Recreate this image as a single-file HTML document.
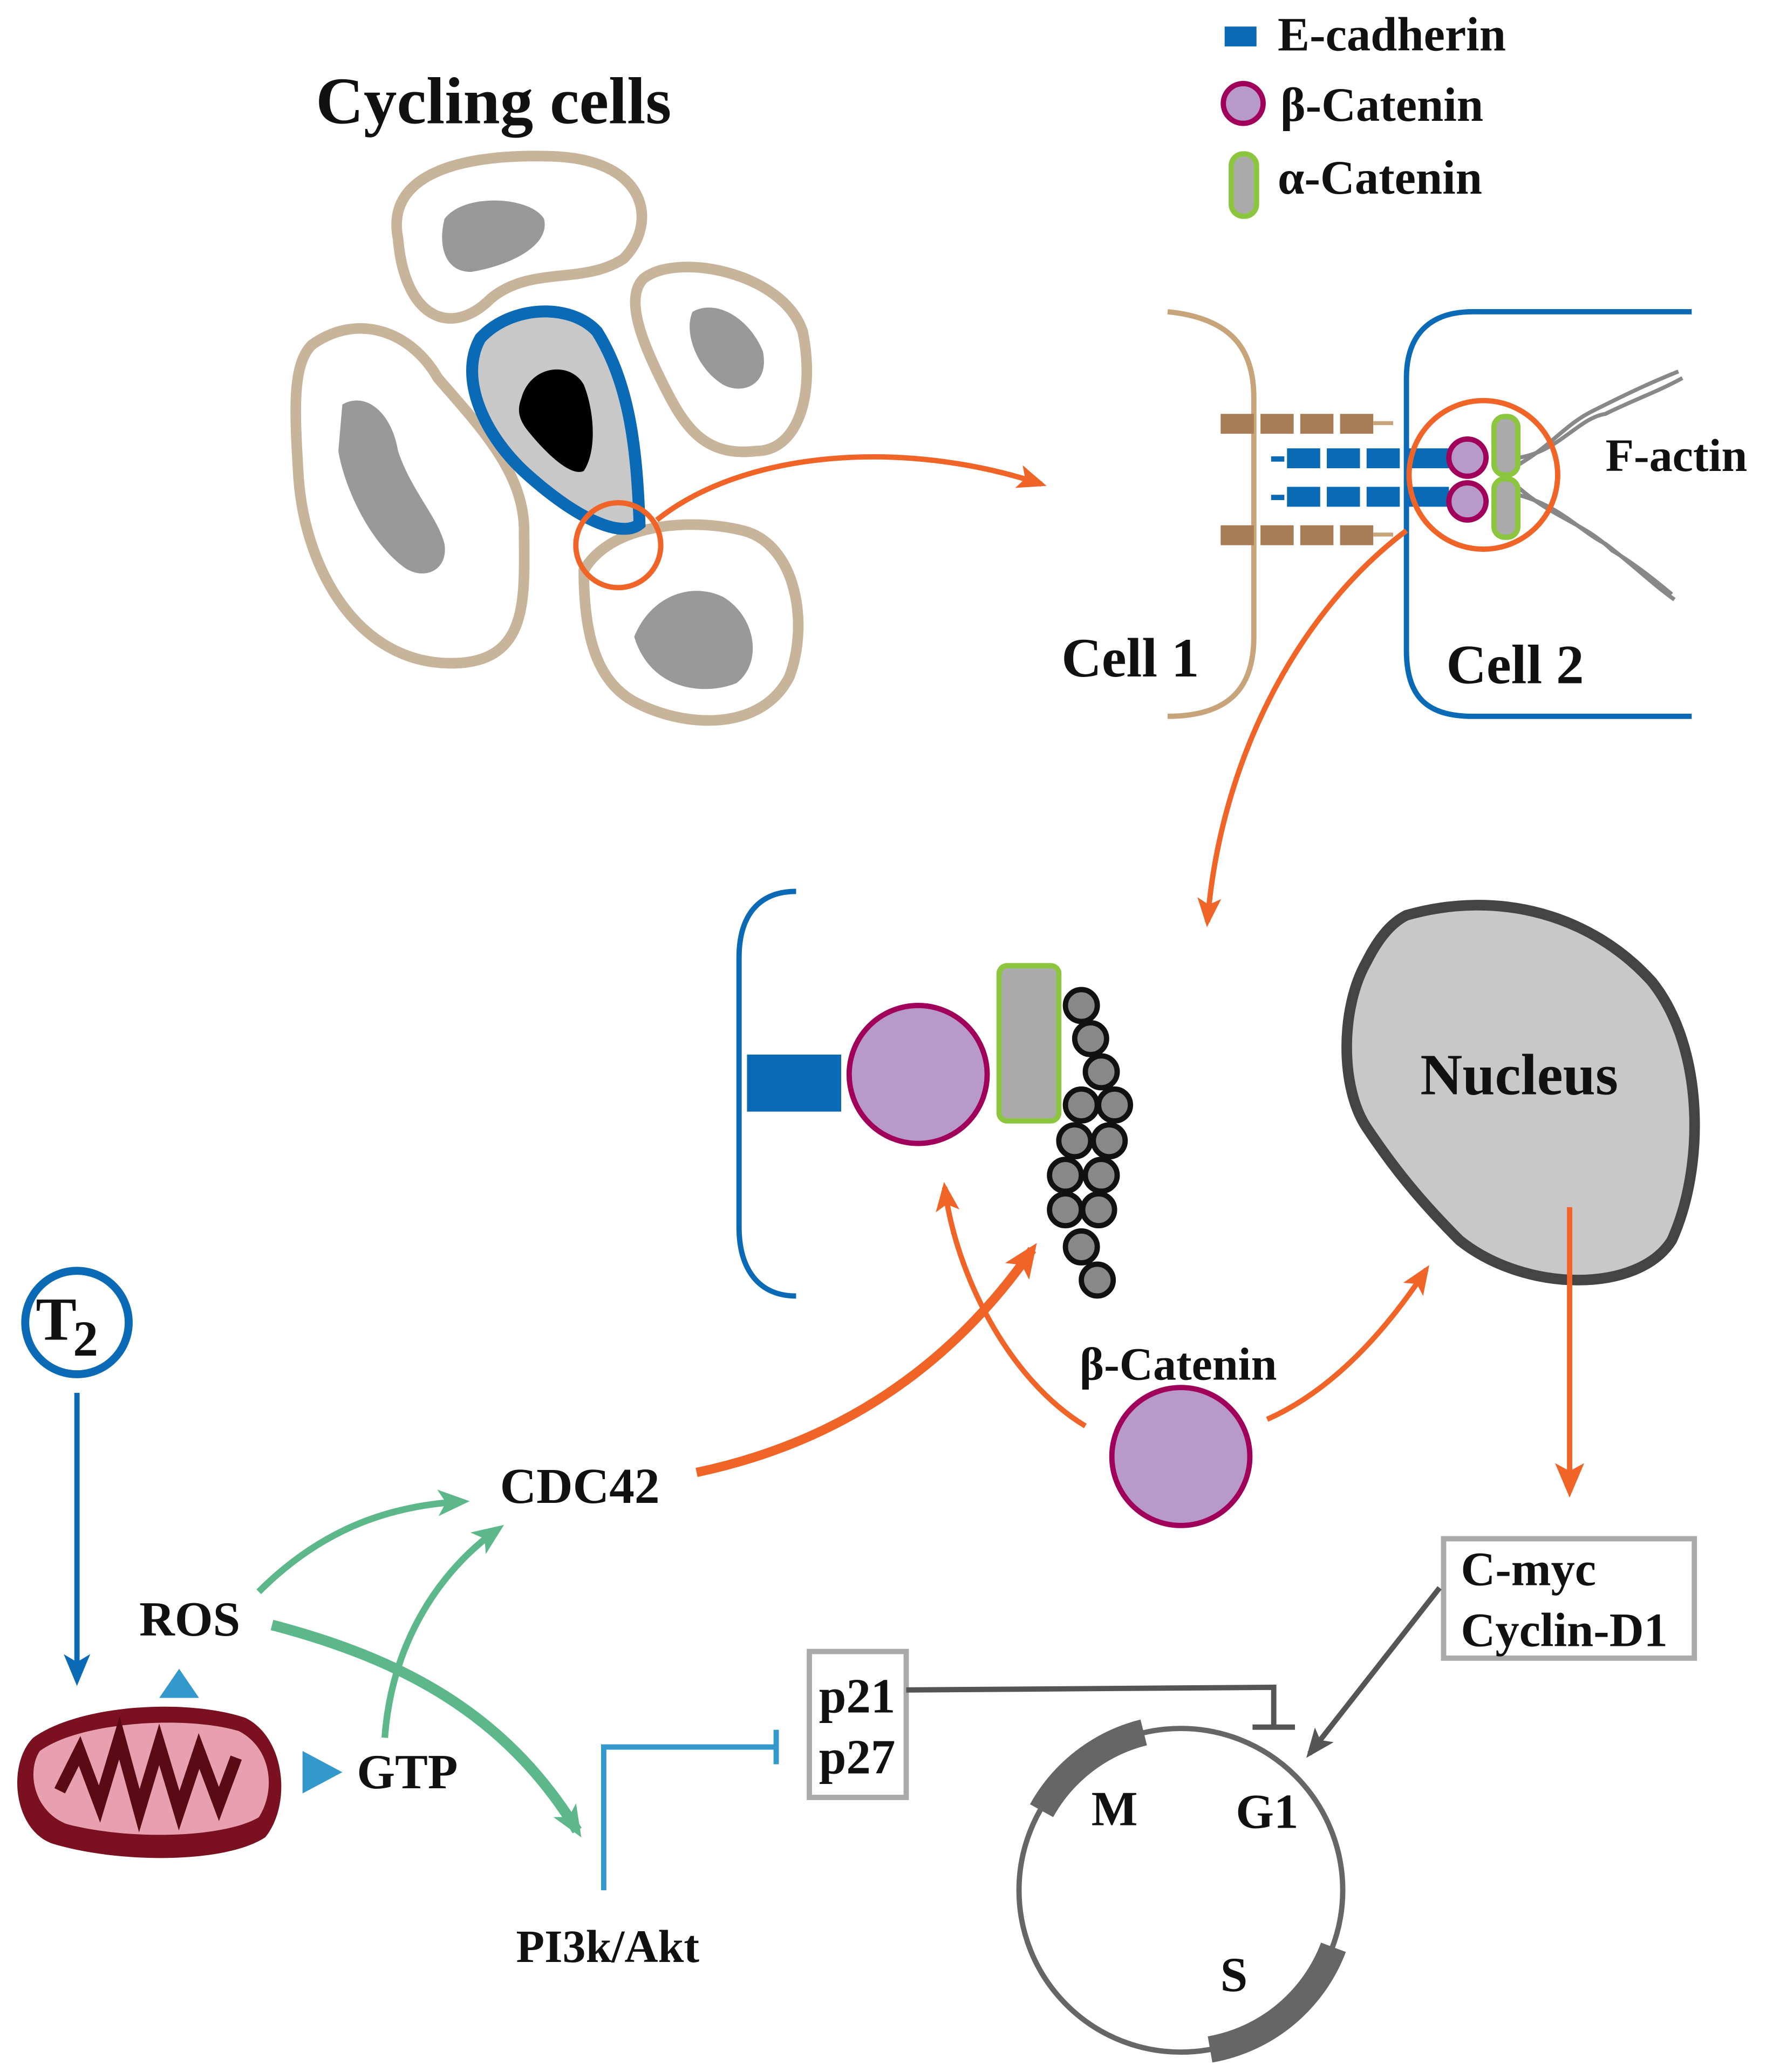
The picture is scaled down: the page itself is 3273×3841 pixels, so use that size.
<!DOCTYPE html>
<html><head><meta charset="utf-8"><style>
html,body{margin:0;padding:0;background:#fff}
svg{display:block}
text{font-family:"Liberation Serif",serif;font-weight:bold;fill:#111}
</style></head><body>
<svg width="3273" height="3841" viewBox="0 0 1331 1562" xmlns="http://www.w3.org/2000/svg">
<defs>
<marker id="aob" markerWidth="26" markerHeight="26" refX="20" refY="13" orient="auto" markerUnits="userSpaceOnUse"><path d="M0,2 L26,13 L0,24 L6,13 Z" fill="#f06428"/></marker>
<marker id="ao2" markerWidth="22" markerHeight="22" refX="18" refY="11" orient="auto" markerUnits="userSpaceOnUse"><path d="M0,2 L22,11 L0,20 L5,11 Z" fill="#f06428"/></marker>
<marker id="ag" markerWidth="24" markerHeight="24" refX="18" refY="12" orient="auto" markerUnits="userSpaceOnUse"><path d="M0,2 L24,12 L0,22 L6,12 Z" fill="#5cb88a"/></marker>
<marker id="ab" markerWidth="24" markerHeight="24" refX="18" refY="12" orient="auto" markerUnits="userSpaceOnUse"><path d="M0,2 L24,12 L0,22 L6,12 Z" fill="#0a6ab5"/></marker>
<marker id="agr" markerWidth="22" markerHeight="22" refX="18" refY="11" orient="auto" markerUnits="userSpaceOnUse"><path d="M0,2 L22,11 L0,20 L5,11 Z" fill="#555"/></marker>
</defs>

<text x="372" y="93" font-size="50" text-anchor="middle">Cycling cells</text>

<g fill="none" stroke="#c8b49a" stroke-width="8">
<path d="M300,180 C290,130 350,115 420,118 C490,122 495,170 470,195 C440,215 400,200 370,225 C340,255 305,240 300,180 Z"/>
<path d="M485,210 C510,190 590,205 605,250 C615,300 600,340 570,340 C530,345 515,320 500,290 C485,260 470,225 485,210 Z"/>
<path d="M235,260 C270,235 310,250 330,285 C360,320 395,355 395,400 C395,450 400,500 340,500 C270,500 230,430 225,360 C222,310 220,275 235,260 Z"/>
<path d="M440,430 C460,395 520,390 560,400 C600,410 610,470 595,510 C575,550 520,550 480,530 C450,515 440,480 440,430 Z"/>
</g>
<path d="M362,255 C385,230 430,228 450,250 C475,290 480,340 482,395 C470,405 440,395 400,360 C365,330 345,285 362,255 Z" fill="#c8c8c8" stroke="#0a6ab5" stroke-width="9"/>
<path d="M393,300 C400,275 430,272 440,290 C448,310 450,340 440,355 C430,360 410,340 398,325 C390,315 390,308 393,300 Z" fill="#000"/>
<g fill="#999">
<path d="M335,165 C350,145 400,148 410,165 C415,185 385,200 355,205 C335,205 330,185 335,165 Z"/>
<path d="M522,235 C540,225 565,240 575,265 C580,290 560,298 545,290 C525,278 515,250 522,235 Z"/>
<path d="M258,305 C275,295 295,310 300,340 C310,370 330,390 335,410 C338,430 320,438 305,428 C280,410 260,370 255,340 Z"/>
<path d="M478,480 C490,450 520,438 545,450 C570,465 575,500 555,515 C530,525 490,520 478,480 Z"/>
</g>
<circle cx="466" cy="411" r="32" fill="none" stroke="#f06428" stroke-width="4"/>
<path d="M495,392 C560,340 680,330 785,365" fill="none" stroke="#f06428" stroke-width="4" marker-end="url(#ao2)"/>

<rect x="923" y="20" width="24" height="15" fill="#0a6ab5"/>
<text x="963" y="38" font-size="36">E-cadherin</text>
<circle cx="937" cy="78" r="15" fill="#b89ac8" stroke="#a0005a" stroke-width="4"/>
<text x="965" y="91" font-size="36">β-Catenin</text>
<rect x="928" y="116" width="19" height="47" rx="9" fill="#aaa" stroke="#8cc63f" stroke-width="4"/>
<text x="963" y="146" font-size="36">α-Catenin</text>

<path d="M880,235 C930,240 945,265 945,300 V480 C945,515 930,540 880,540" fill="none" stroke="#c8a47a" stroke-width="4"/>
<path d="M1275,235 H1110 C1075,235 1060,255 1060,285 V490 C1060,525 1075,540 1110,540 H1275" fill="none" stroke="#0a6ab5" stroke-width="4"/>
<g fill="#a87c55">
<rect x="920" y="312" width="25" height="15"/><rect x="950" y="312" width="25" height="15"/><rect x="980" y="312" width="25" height="15"/><rect x="1010" y="312" width="25" height="15"/>
<rect x="920" y="396" width="25" height="15"/><rect x="950" y="396" width="25" height="15"/><rect x="980" y="396" width="25" height="15"/><rect x="1010" y="396" width="25" height="15"/>
</g>
<line x1="1035" y1="319" x2="1050" y2="319" stroke="#c8a47a" stroke-width="3"/>
<line x1="1035" y1="403" x2="1050" y2="403" stroke="#c8a47a" stroke-width="3"/>
<g fill="#0a6ab5">
<rect x="958" y="344" width="10" height="4"/><rect x="970" y="338" width="25" height="15"/><rect x="1000" y="338" width="25" height="15"/><rect x="1030" y="338" width="25" height="15"/><rect x="1062" y="338" width="30" height="15"/>
<rect x="958" y="373" width="10" height="4"/><rect x="970" y="367" width="25" height="15"/><rect x="1000" y="367" width="25" height="15"/><rect x="1030" y="367" width="25" height="15"/><rect x="1062" y="367" width="30" height="15"/>
</g>
<g fill="none" stroke="#888" stroke-width="3">
<path d="M1145,350 C1170,335 1180,320 1200,310 C1220,300 1240,290 1265,280"/>
<path d="M1145,345 C1175,340 1190,315 1210,312 C1230,302 1250,295 1268,285"/>
<path d="M1140,372 C1175,380 1190,400 1210,410 C1230,425 1245,440 1262,452"/>
<path d="M1145,368 C1170,390 1195,395 1215,415 C1232,425 1248,438 1260,448"/>
</g>
<circle cx="1106" cy="345" r="14" fill="#b89ac8" stroke="#a0005a" stroke-width="4"/>
<circle cx="1106" cy="378" r="14" fill="#b89ac8" stroke="#a0005a" stroke-width="4"/>
<rect x="1126" y="314" width="18" height="44" rx="8" fill="#aaa" stroke="#8cc63f" stroke-width="4"/>
<rect x="1126" y="361" width="18" height="44" rx="8" fill="#aaa" stroke="#8cc63f" stroke-width="4"/>
<circle cx="1118" cy="358" r="56" fill="none" stroke="#f06428" stroke-width="4"/>
<text x="1210" y="355" font-size="35">F-actin</text>
<text x="800" y="510" font-size="42">Cell 1</text>
<text x="1090" y="515" font-size="42">Cell 2</text>
<path d="M1060,400 C980,460 920,570 910,695" fill="none" stroke="#f06428" stroke-width="4" marker-end="url(#ao2)"/>

<path d="M600,672 C572,672 557,690 557,722 V925 C557,957 572,977 600,977" fill="none" stroke="#0a6ab5" stroke-width="4"/>
<rect x="563" y="795" width="71" height="43" fill="#0a6ab5"/>
<circle cx="692" cy="810" r="52" fill="#b89ac8" stroke="#a0005a" stroke-width="4"/>
<rect x="753" y="728" width="45" height="117" rx="6" fill="#aaa" stroke="#8cc63f" stroke-width="4"/>
<g fill="#888" stroke="#111" stroke-width="4">
<circle cx="815" cy="758" r="12"/><circle cx="822" cy="783" r="12"/><circle cx="830" cy="808" r="12"/>
<circle cx="815" cy="833" r="12"/><circle cx="840" cy="833" r="12"/><circle cx="810" cy="860" r="12"/><circle cx="836" cy="860" r="12"/>
<circle cx="803" cy="886" r="12"/><circle cx="830" cy="886" r="12"/><circle cx="803" cy="912" r="12"/><circle cx="828" cy="912" r="12"/>
<circle cx="815" cy="940" r="12"/><circle cx="827" cy="965" r="12"/>
</g>

<path d="M1060,690 C1130,670 1200,690 1245,740 C1285,790 1285,880 1260,935 C1235,975 1150,975 1100,935 C1070,905 1050,880 1030,850 C1010,820 1010,760 1030,725 C1040,705 1050,695 1060,690 Z" fill="#c8c8c8" stroke="#444" stroke-width="8"/>
<text x="1145" y="825" font-size="44" text-anchor="middle">Nucleus</text>
<line x1="1183" y1="910" x2="1183" y2="1123" stroke="#f06428" stroke-width="4" marker-end="url(#aob)"/>

<text x="888" y="1040" font-size="35" text-anchor="middle">β-Catenin</text>
<circle cx="890" cy="1098" r="52" fill="#b89ac8" stroke="#a0005a" stroke-width="4"/>
<path d="M818,1075 C760,1040 720,960 712,895" fill="none" stroke="#f06428" stroke-width="4" marker-end="url(#ao2)"/>
<path d="M955,1070 C1000,1050 1040,1010 1075,957" fill="none" stroke="#f06428" stroke-width="4" marker-end="url(#ao2)"/>

<text x="437" y="1133" font-size="38" text-anchor="middle">CDC42</text>
<path d="M525,1110 C620,1090 710,1040 778,942" fill="none" stroke="#f06428" stroke-width="7" marker-end="url(#aob)"/>

<circle cx="58" cy="997" r="39" fill="#fff" stroke="#0a6ab5" stroke-width="6"/>
<text x="27" y="1010" font-size="46">T</text><text x="55" y="1022" font-size="38">2</text>
<line x1="58" y1="1050" x2="58" y2="1265" stroke="#0a6ab5" stroke-width="4" marker-end="url(#ab)"/>
<text x="143" y="1233" font-size="37" text-anchor="middle">ROS</text>
<path d="M135,1258 L150,1280 L120,1280 Z" fill="#3399cc"/>
<path d="M228,1320 L258,1336 L228,1352 Z" fill="#3399cc"/>
<text x="307" y="1348" font-size="37" text-anchor="middle">GTP</text>

<path d="M25,1310 C60,1285 140,1280 185,1295 C215,1310 220,1360 200,1385 C170,1405 90,1405 40,1390 C10,1380 5,1330 25,1310 Z" fill="#7a1020"/>
<path d="M30,1320 C60,1298 140,1293 180,1305 C205,1318 208,1350 195,1370 C170,1385 100,1388 50,1375 C25,1365 20,1335 30,1320 Z" fill="#e8a0b0"/>
<path d="M45,1350 L60,1320 L75,1360 L90,1310 L105,1365 L120,1315 L135,1365 L150,1320 L165,1360 L178,1325" fill="none" stroke="#5a0a15" stroke-width="9"/>

<path d="M195,1200 C240,1155 290,1135 348,1132" fill="none" stroke="#5cb88a" stroke-width="5" marker-end="url(#ag)"/>
<path d="M290,1310 C295,1240 330,1185 375,1153" fill="none" stroke="#5cb88a" stroke-width="5" marker-end="url(#ag)"/>
<path d="M205,1225 C300,1250 380,1290 435,1380" fill="none" stroke="#5cb88a" stroke-width="8" marker-end="url(#ag)"/>

<text x="458" y="1479" font-size="35" text-anchor="middle">PI3k/Akt</text>
<path d="M455,1425 V1317 H585" fill="none" stroke="#3399cc" stroke-width="4"/>
<line x1="585" y1="1304" x2="585" y2="1330" stroke="#3399cc" stroke-width="4"/>

<rect x="610" y="1245" width="73" height="110" fill="#fff" stroke="#aaa" stroke-width="4"/>
<text x="646" y="1291" font-size="37" text-anchor="middle">p21</text>
<text x="646" y="1337" font-size="37" text-anchor="middle">p27</text>
<path d="M683,1274 L960,1272 V1302" fill="none" stroke="#555" stroke-width="4"/>
<line x1="944" y1="1302" x2="976" y2="1302" stroke="#555" stroke-width="4"/>

<rect x="1088" y="1160" width="189" height="90" fill="#fff" stroke="#aaa" stroke-width="4"/>
<text x="1101" y="1195" font-size="36">C-myc</text>
<text x="1101" y="1241" font-size="36">Cyclin-D1</text>
<line x1="1085" y1="1197" x2="987" y2="1322" stroke="#555" stroke-width="4" marker-end="url(#agr)"/>

<circle cx="890" cy="1425" r="122" fill="none" stroke="#666" stroke-width="4"/>
<path d="M785,1365 A122,122 0 0 1 862,1306" fill="none" stroke="#666" stroke-width="20"/>
<path d="M1005,1468 A122,122 0 0 1 912,1545" fill="none" stroke="#666" stroke-width="20"/>
<text x="840" y="1376" font-size="37" text-anchor="middle">M</text>
<text x="955" y="1378" font-size="37" text-anchor="middle">G1</text>
<text x="930" y="1501" font-size="37" text-anchor="middle">S</text>
</svg>
</body></html>
